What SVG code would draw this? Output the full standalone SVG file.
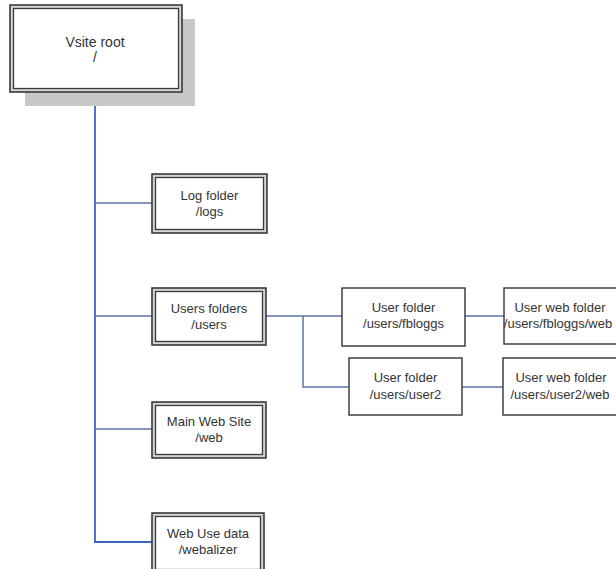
<svg xmlns="http://www.w3.org/2000/svg" width="616" height="569" viewBox="0 0 616 569">
<style>
.outer{fill:#d4d4d4;stroke:#2e2e2e;stroke-width:1.5}
.inner{fill:#fff;stroke:#3a3a3a;stroke-width:1.3}
.single{fill:#fff;stroke:#333;stroke-width:1.4}
text{font-family:"Liberation Sans",Arial,sans-serif;font-size:13px;fill:#333;text-anchor:middle}
.conn{stroke:#5a74a8;stroke-width:1.5;fill:none}
.main{stroke:#3b64c4;stroke-width:1.8;fill:none}
</style>
<rect x="0" y="0" width="616" height="569" fill="#fff"/>
<g id="connectors">
<path class="main" d="M95,92 V542 H152"/>
<path class="conn" d="M95,203 H152 M95,316 H152 M95,429 H152"/>
<path class="conn" d="M266,316 H342 M303,316 V387 H349 M465,316 H504 M462,387 H503"/>
</g>
<g id="root">
<rect x="25" y="19" width="170" height="87" fill="#c8c8c8"/>
<rect class="outer" x="10" y="5" width="172" height="87"/>
<rect class="inner" x="13.5" y="8.5" width="165" height="80"/>
<text x="95" y="47" style="font-size:14px">Vsite root</text>
<text x="95" y="62" style="font-size:14px">/</text>
</g>
<g id="logs">
<rect class="outer" x="152" y="174" width="115" height="59"/>
<rect class="inner" x="155.5" y="177.5" width="108" height="52"/>
<text x="209.5" y="200">Log folder</text>
<text x="209.5" y="216">/logs</text>
</g>
<g id="users">
<rect class="outer" x="152" y="288" width="114" height="57"/>
<rect class="inner" x="155.5" y="291.5" width="107" height="50"/>
<text x="209" y="313">Users folders</text>
<text x="209" y="329">/users</text>
</g>
<g id="web">
<rect class="outer" x="152" y="402" width="114" height="56"/>
<rect class="inner" x="155.5" y="405.5" width="107" height="49"/>
<text x="209" y="426">Main Web Site</text>
<text x="209" y="442">/web</text>
</g>
<g id="webalizer">
<rect class="outer" x="152" y="513" width="112" height="60"/>
<rect class="inner" x="155.5" y="516.5" width="105" height="53"/>
<text x="208" y="538">Web Use data</text>
<text x="208" y="554">/webalizer</text>
</g>
<g id="fbloggs">
<rect class="single" x="342" y="288" width="123" height="58"/>
<text x="403.5" y="312">User folder</text>
<text x="403.5" y="328">/users/fbloggs</text>
</g>
<g id="user2">
<rect class="single" x="349" y="358" width="113" height="57"/>
<text x="405.5" y="382">User folder</text>
<text x="405.5" y="399">/users/user2</text>
</g>
<g id="fbloggs-web">
<rect class="single" x="504" y="288" width="116" height="56"/>
<text x="560" y="312">User web folder</text>
<text x="558" y="328">/users/fbloggs/web</text>
</g>
<g id="user2-web">
<rect class="single" x="503" y="358" width="117" height="57"/>
<text x="561" y="382">User web folder</text>
<text x="560" y="399">/users/user2/web</text>
</g>
</svg>
